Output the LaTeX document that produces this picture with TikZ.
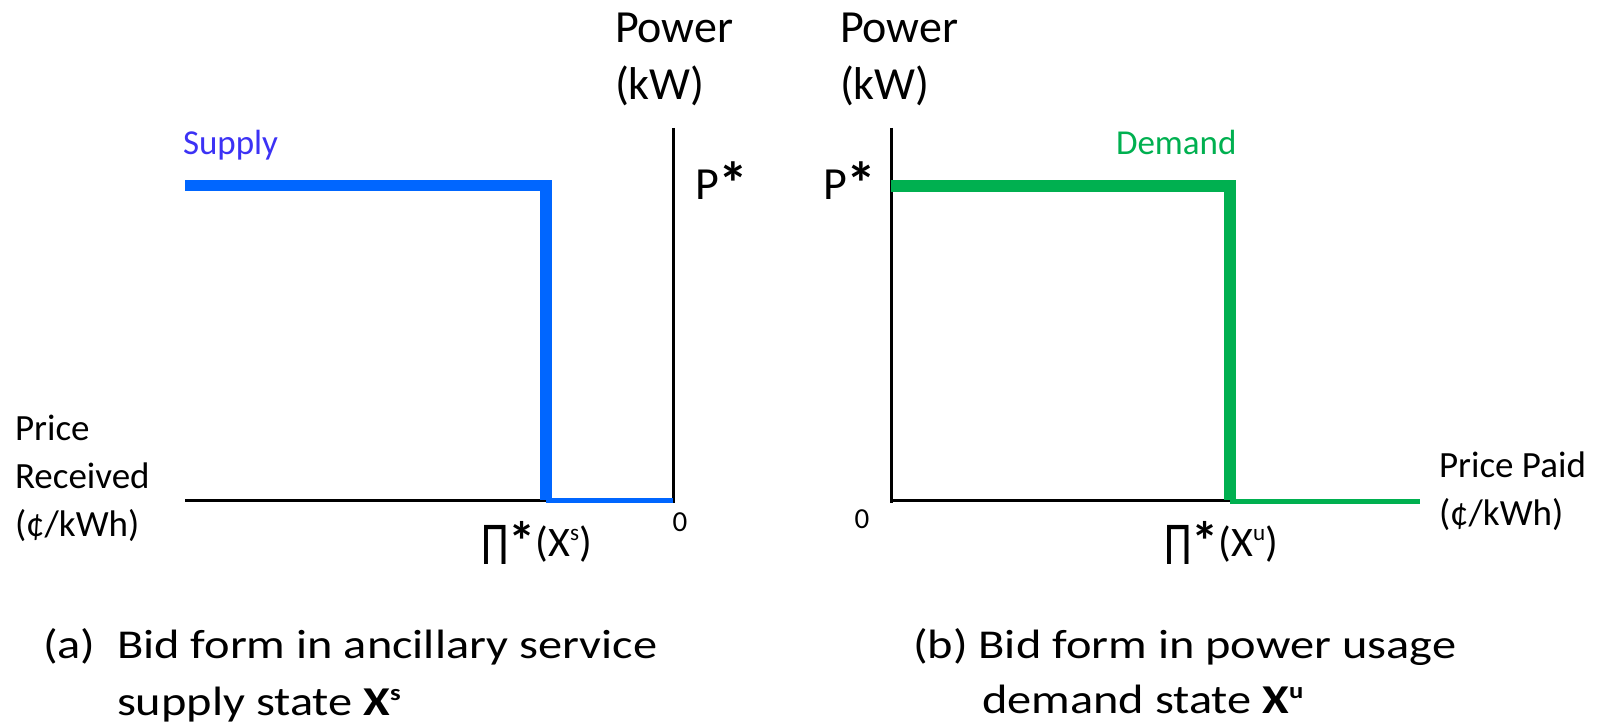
\documentclass[tikz,border=0pt]{standalone}
\usepackage{fontspec}
\setmainfont{Carlito}
\newfontfamily\capfont[FakeStretch=1.18]{Carlito}
\definecolor{supplyblue}{RGB}{0,102,255}
\definecolor{supplytext}{RGB}{60,50,245}
\definecolor{demandgreen}{RGB}{0,176,80}
\newcommand{\fs}[1]{\fontsize{#1}{#1}\selectfont}
\newcommand{\bigpi}{\raisebox{-0.2em}{\scalebox{1.05}[1.45]{Π}}}
\newcommand{\starmark}{\raisebox{-0.1em}{\scalebox{1.3}{\textbf{*}}}}
\newcommand{\supx}[1]{\raisebox{0.36em}{\scalebox{0.55}{#1}}}
\tikzset{
  axisline/.style={black, line width=3pt},
  bidthick/.style={line width=11.5pt, line join=miter},
  bidthin/.style={line width=5pt},
  lbl/.style={anchor=base west, inner sep=0pt, outer sep=0pt},
  axislbl/.style={lbl, font=\fs{46}},
  pricelbl/.style={lbl, font=\fs{37}},
  curvelbl/.style={lbl, font=\fs{35}},
  caplbl/.style={lbl, font=\capfont\fs{41}},
  pilbl/.style={lbl, font=\fs{42}},
}
\begin{document}
\begin{tikzpicture}[x=1pt, y=-1pt]
  \path[use as bounding box, fill=white] (0,0) rectangle (1605,727);

  % ---------- (a) supply bid ----------
  \coordinate (aTop)    at (673,128);
  \coordinate (aOrigin) at (673,503);
  \coordinate (aLeft)   at (185,500);
  \coordinate (aStep)   at (546,500);
  \coordinate (aStart)  at (185,185.5);
  \coordinate (aCorner) at (546,185.5);

  \draw[axisline] (aTop) -- (aOrigin);
  \draw[axisline] (aLeft) -- (aStep);
  \draw[supplyblue, bidthin] (aStep) -- (aOrigin |- aStep);
  \draw[supplyblue, bidthick] (aStart) -- (aCorner) -- (aStep);

  \node[axislbl] (aPow)  at (615,43)  {Power};
  \node[axislbl] (aKw)   at (615,100) {(kW)};
  \node[axislbl] (aPs)   at (695,200) {P\starmark};
  \node[curvelbl, text=supplytext] (aCurve) at (183,155) {Supply};
  \node[font=\fs{29}, inner sep=0pt] (aZero) at (680,522) {0};
  \node[pilbl] (aPi) at (481,556) {\bigpi\starmark(X\supx{s})};
  \node[pricelbl] (aP1) at (15,440) {Price};
  \node[pricelbl] (aP2) at (15,488) {Received};
  \node[pricelbl] (aP3) at (15,536) {(¢/kWh)};
  \node[caplbl] (aCapA) at (43,658)  {(a)};
  \node[caplbl] (aCap1) at (117,658) {Bid form in ancillary service};
  \node[caplbl] (aCap2) at (117,715) {supply state \textbf{X}\supx{\textbf{s}}};

  % ---------- (b) demand bid ----------
  \coordinate (bTop)    at (891,128);
  \coordinate (bOrigin) at (891,503);
  \coordinate (bStep)   at (1230,500);
  \coordinate (bEnd)    at (1420,501);
  \coordinate (bStart)  at (891,186);
  \coordinate (bCorner) at (1230,186);

  \draw[axisline] (bTop) -- (bOrigin);
  \draw[axisline] (bOrigin |- bStep) -- (bStep);
  \draw[demandgreen, bidthin] (bStep |- bEnd) -- (bEnd);
  \draw[demandgreen, bidthick] (bStart) -- (bCorner) -- (bStep);

  \node[axislbl] (bPow)  at (840,43)  {Power};
  \node[axislbl] (bKw)   at (840,100) {(kW)};
  \node[axislbl] (bPs)   at (823,200) {P\starmark};
  \node[curvelbl, text=demandgreen] (bCurve) at (1116,155) {Demand};
  \node[font=\fs{29}, inner sep=0pt] (bZero) at (862,519) {0};
  \node[pilbl] (bPi) at (1164,556) {\bigpi\starmark(X\supx{u})};
  \node[pricelbl] (bP1) at (1439,477) {Price Paid};
  \node[pricelbl] (bP2) at (1439,525) {(¢/kWh)};
  \node[caplbl] (bCap1) at (913,658) {(b) Bid form in power usage};
  \node[caplbl] (bCap2) at (982,713) {demand state \textbf{X}\supx{\textbf{u}}};
\end{tikzpicture}
\end{document}
